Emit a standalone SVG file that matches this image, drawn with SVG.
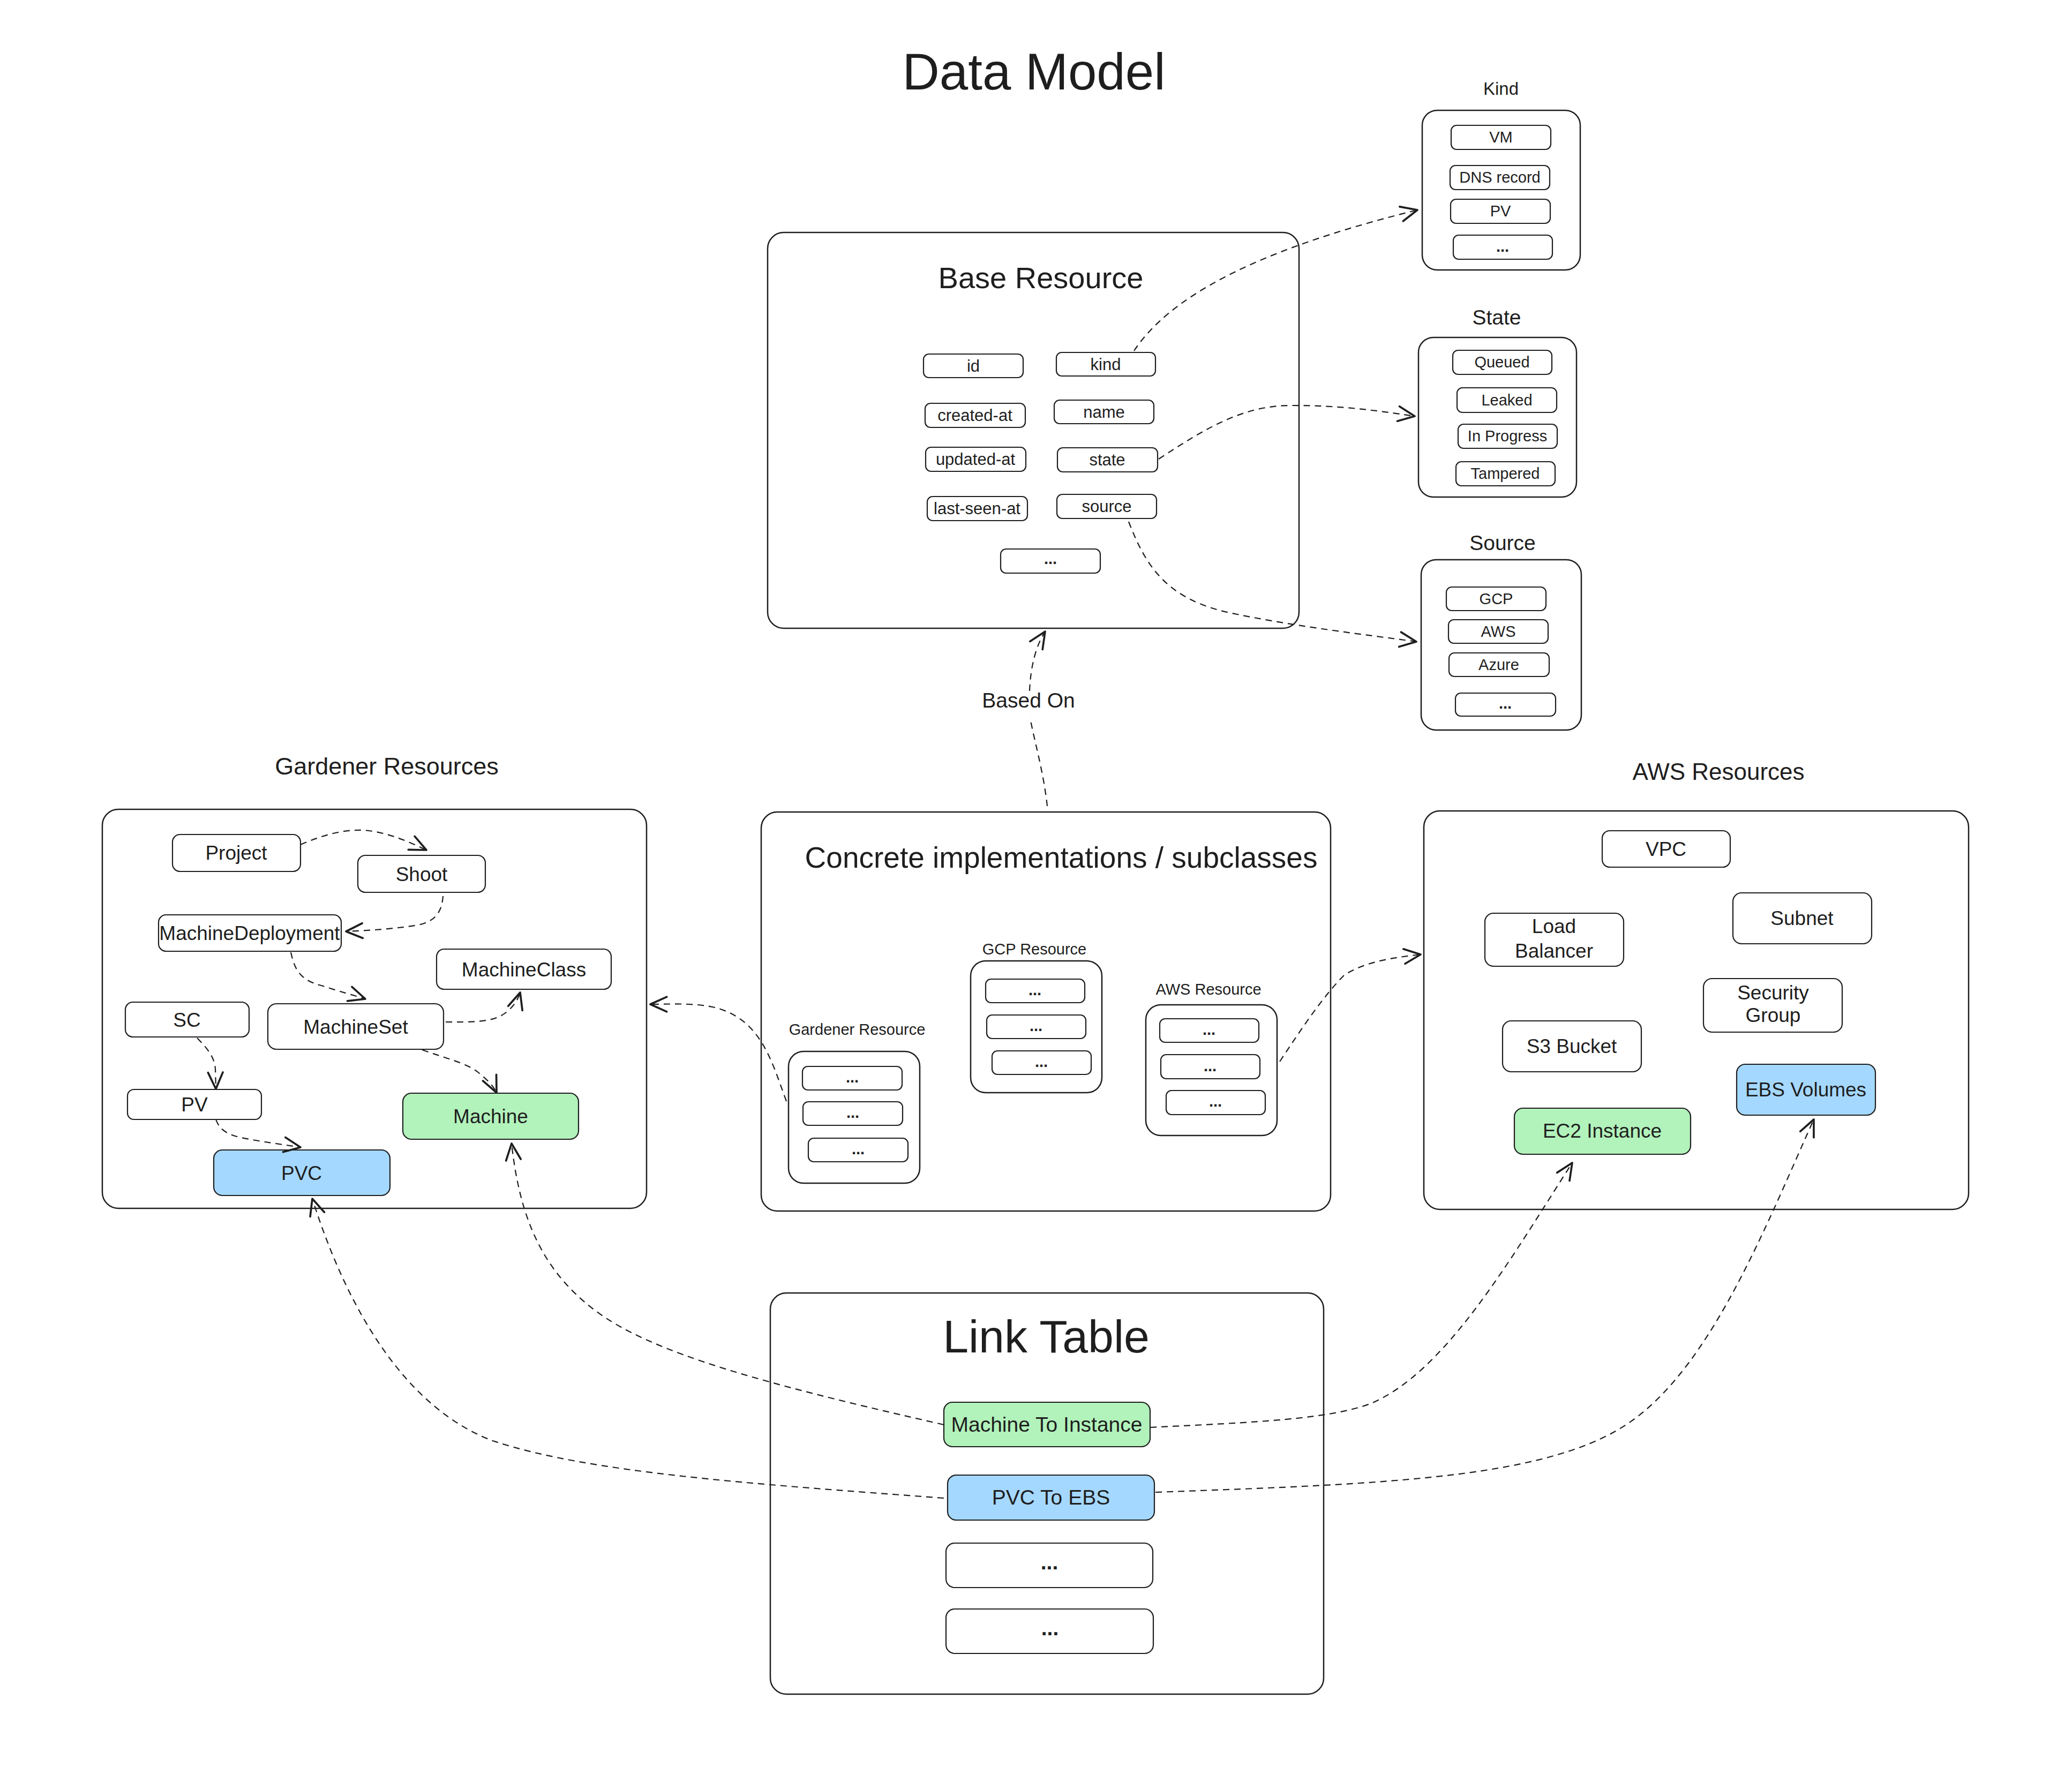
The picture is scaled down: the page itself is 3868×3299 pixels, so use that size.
<svg xmlns="http://www.w3.org/2000/svg" width="3868" height="3299" viewBox="0 0 3868 3299">
<defs>
<style>
.box{fill:#ffffff;stroke:#1e1e1e;stroke-width:2.5}
.item{fill:#ffffff;stroke:#1e1e1e;stroke-width:2.2}
.green{fill:#b2f2bb;stroke:#1e1e1e;stroke-width:2.2}
.blue{fill:#a5d8ff;stroke:#1e1e1e;stroke-width:2.2}
text{font-family:"Liberation Sans",Arial,sans-serif;fill:#1e1e1e;text-anchor:middle}
.t28{font-size:29px}
.t30{font-size:31px}
.t36{font-size:37px}
.t38{font-size:39px}
.dots{font-weight:bold}
.conn{fill:none;stroke:#1e1e1e;stroke-width:2.2;stroke-dasharray:12 9}
</style>
<marker id="arr" markerUnits="userSpaceOnUse" markerWidth="40" markerHeight="40" viewBox="-22 -12 26 24" refX="0" refY="0" orient="auto">
<path d="M-20,-9 L0,0 L-20,9" fill="none" stroke="#1e1e1e" stroke-width="2.4" stroke-linecap="round" stroke-linejoin="round"/>
</marker>
</defs>
<rect width="3868" height="3299" fill="#ffffff"/>

<g id="title"><text x="1930" y="167" style="font-size:96px">Data Model</text></g>

<g id="base-resource">
<rect class="box" x="1433" y="434" width="992" height="739" rx="30"/>
<text x="1943" y="538" style="font-size:56px">Base Resource</text>
<rect class="item" x="1724" y="661" width="186" height="44" rx="10"/><text class="t30" x="1817" y="694">id</text>
<rect class="item" x="1972" y="658" width="185" height="44" rx="10"/><text class="t30" x="2064" y="691">kind</text>
<rect class="item" x="1727" y="753" width="187" height="45" rx="10"/><text class="t30" x="1820" y="786">created-at</text>
<rect class="item" x="1968" y="747" width="186" height="44" rx="10"/><text class="t30" x="2061" y="780">name</text>
<rect class="item" x="1728" y="835" width="187" height="45" rx="10"/><text class="t30" x="1821" y="868">updated-at</text>
<rect class="item" x="1974" y="836" width="187" height="45" rx="10"/><text class="t30" x="2067" y="869">state</text>
<rect class="item" x="1731" y="927" width="187" height="45" rx="10"/><text class="t30" x="1824" y="960">last-seen-at</text>
<rect class="item" x="1973" y="923" width="186" height="45" rx="10"/><text class="t30" x="2066" y="956">source</text>
<rect class="item" x="1868" y="1025" width="186" height="45" rx="10"/><text class="t28 dots" x="1961" y="1053">...</text>
</g>

<g id="kind">
<text x="2802" y="177" style="font-size:33px">Kind</text>
<rect class="box" x="2655" y="206" width="295" height="298" rx="28"/>
<rect class="item" x="2709" y="234" width="186" height="45" rx="10"/><text class="t28" x="2802" y="266">VM</text>
<rect class="item" x="2707" y="309" width="186" height="45" rx="10"/><text class="t28" x="2800" y="341">DNS record</text>
<rect class="item" x="2708" y="372" width="186" height="45" rx="10"/><text class="t28" x="2801" y="404">PV</text>
<rect class="item" x="2713" y="439" width="185" height="45" rx="10"/><text class="t28 dots" x="2805" y="470">...</text>
</g>

<g id="state">
<text x="2794" y="606" style="font-size:39px">State</text>
<rect class="box" x="2648" y="630" width="295" height="298" rx="28"/>
<rect class="item" x="2712" y="654" width="185" height="45" rx="10"/><text class="t28" x="2804" y="686">Queued</text>
<rect class="item" x="2720" y="724" width="186" height="46" rx="10"/><text class="t28" x="2813" y="757">Leaked</text>
<rect class="item" x="2722" y="792" width="185" height="45" rx="10"/><text class="t28" x="2814" y="824">In Progress</text>
<rect class="item" x="2718" y="862" width="185" height="45" rx="10"/><text class="t28" x="2810" y="894">Tampered</text>
</g>

<g id="source">
<text x="2805" y="1027" style="font-size:39px">Source</text>
<rect class="box" x="2653" y="1045" width="299" height="318" rx="28"/>
<rect class="item" x="2700" y="1096" width="186" height="44" rx="10"/><text class="t28" x="2793" y="1128">GCP</text>
<rect class="item" x="2704" y="1157" width="186" height="44" rx="10"/><text class="t28" x="2797" y="1189">AWS</text>
<rect class="item" x="2705" y="1219" width="187" height="44" rx="10"/><text class="t28" x="2798" y="1251">Azure</text>
<rect class="item" x="2717" y="1294" width="187" height="43" rx="10"/><text class="t28 dots" x="2810" y="1323">...</text>
</g>

<g id="gardener-resources">
<text x="722" y="1446" style="font-size:45px">Gardener Resources</text>
<rect class="box" x="191" y="1511" width="1016" height="745" rx="30"/>
<rect class="item" x="322" y="1558" width="239" height="69" rx="14"/><text class="t36" x="441" y="1605">Project</text>
<rect class="item" x="668" y="1597" width="238" height="69" rx="14"/><text class="t36" x="787" y="1645">Shoot</text>
<rect class="item" x="296" y="1708" width="341" height="68" rx="14"/><text class="t36" x="466" y="1755">MachineDeployment</text>
<rect class="item" x="815" y="1772" width="326" height="75" rx="14"/><text class="t36" x="978" y="1823">MachineClass</text>
<rect class="item" x="234" y="1871" width="231" height="65" rx="14"/><text class="t36" x="349" y="1917">SC</text>
<rect class="item" x="500" y="1874" width="328" height="85" rx="16"/><text class="t36" x="664" y="1930">MachineSet</text>
<rect class="item" x="238" y="2034" width="250" height="56" rx="12"/><text class="t36" x="363" y="2075">PV</text>
<rect class="green" x="752" y="2041" width="328" height="86" rx="16"/><text class="t36" x="916" y="2097">Machine</text>
<rect class="blue" x="399" y="2147" width="329" height="85" rx="16"/><text class="t36" x="563" y="2203">PVC</text>
</g>

<g id="concrete-implementations">
<rect class="box" x="1421" y="1516" width="1063" height="745" rx="30"/>
<text x="1981" y="1620" style="font-size:55px">Concrete implementations / subclasses</text>
<g id="gardener-resource">
<text class="t28" x="1600" y="1932">Gardener Resource</text>
<rect class="box" x="1472" y="1963" width="245" height="246" rx="28"/>
<rect class="item" x="1498" y="1991" width="186" height="44" rx="10"/><text class="t28 dots" x="1591" y="2021">...</text>
<rect class="item" x="1499" y="2057" width="186" height="44" rx="10"/><text class="t28 dots" x="1592" y="2087">...</text>
<rect class="item" x="1509" y="2125" width="186" height="44" rx="10"/><text class="t28 dots" x="1602" y="2155">...</text>
</g>
<g id="gcp-resource">
<text class="t28" x="1931" y="1782">GCP Resource</text>
<rect class="box" x="1812" y="1794" width="245" height="246" rx="28"/>
<rect class="item" x="1840" y="1828" width="185" height="44" rx="10"/><text class="t28 dots" x="1932" y="1858">...</text>
<rect class="item" x="1842" y="1895" width="185" height="44" rx="10"/><text class="t28 dots" x="1934" y="1925">...</text>
<rect class="item" x="1852" y="1962" width="185" height="44" rx="10"/><text class="t28 dots" x="1944" y="1992">...</text>
</g>
<g id="aws-resource">
<text class="t28" x="2256" y="1857">AWS Resource</text>
<rect class="box" x="2139" y="1876" width="245" height="244" rx="28"/>
<rect class="item" x="2165" y="1902" width="185" height="44" rx="10"/><text class="t28 dots" x="2257" y="1932">...</text>
<rect class="item" x="2167" y="1969" width="185" height="45" rx="10"/><text class="t28 dots" x="2259" y="2000">...</text>
<rect class="item" x="2177" y="2036" width="185" height="45" rx="10"/><text class="t28 dots" x="2269" y="2066">...</text>
</g>
</g>

<g id="aws-resources">
<text x="3208" y="1456" style="font-size:44px">AWS Resources</text>
<rect class="box" x="2658" y="1514" width="1017" height="744" rx="30"/>
<rect class="item" x="2991" y="1551" width="239" height="68" rx="14"/><text class="t36" x="3110" y="1598">VPC</text>
<rect class="item" x="3235" y="1667" width="259" height="95" rx="16"/><text class="t36" x="3364" y="1727">Subnet</text>
<rect class="item" x="2772" y="1705" width="259" height="99" rx="16"/><text class="t36" x="2901" y="1742">Load</text><text class="t36" x="2901" y="1788">Balancer</text>
<rect class="item" x="3180" y="1827" width="259" height="100" rx="16"/><text class="t36" x="3310" y="1866">Security</text><text class="t36" x="3310" y="1908">Group</text>
<rect class="item" x="2805" y="1906" width="259" height="95" rx="16"/><text class="t36" x="2934" y="1966">S3 Bucket</text>
<rect class="blue" x="3242" y="1987" width="259" height="95" rx="16"/><text class="t36" x="3371" y="2047">EBS Volumes</text>
<rect class="green" x="2827" y="2069" width="329" height="86" rx="16"/><text class="t36" x="2991" y="2124">EC2 Instance</text>
</g>

<g id="link-table">
<rect class="box" x="1438" y="2414" width="1033" height="749" rx="30"/>
<text x="1953" y="2525" style="font-size:86px">Link Table</text>
<rect class="green" x="1762" y="2618" width="385" height="83" rx="16"/><text class="t38" x="1954" y="2673">Machine To Instance</text>
<rect class="blue" x="1769" y="2754" width="386" height="84" rx="16"/><text class="t38" x="1962" y="2809">PVC To EBS</text>
<rect class="item" x="1766" y="2881" width="386" height="83" rx="16"/><text class="t38 dots" x="1959" y="2930">...</text>
<rect class="item" x="1766" y="3004" width="387" height="83" rx="16"/><text class="t38 dots" x="1960" y="3053">...</text>
</g>

<g id="connectors">
<path class="conn" marker-end="url(#arr)" d="M2117,655 C2180,560 2330,470 2646,392"/>
<path class="conn" marker-end="url(#arr)" d="M2163,857 C2250,800 2320,757 2410,757 C2500,757 2560,765 2641,777"/>
<path class="conn" marker-end="url(#arr)" d="M2107,974 C2140,1060 2180,1120 2300,1145 C2420,1170 2550,1185 2644,1198"/>
<path class="conn" d="M1955,1505 C1948,1440 1930,1380 1923,1340"/>
<path class="conn" marker-end="url(#arr)" d="M1922,1290 Q1925,1220 1951,1179"/>
<text x="1920" y="1321" class="t38">Based On</text>
<path class="conn" marker-end="url(#arr)" d="M1468,2056 C1440,1980 1420,1900 1330,1880 C1290,1872 1250,1875 1214,1875"/>
<path class="conn" marker-end="url(#arr)" d="M2389,1982 C2430,1920 2470,1860 2510,1820 C2550,1795 2600,1788 2652,1782"/>
<path class="conn" marker-end="url(#arr)" d="M561,1577 C600,1560 640,1548 680,1550 C720,1553 760,1570 796,1587"/>
<path class="conn" marker-end="url(#arr)" d="M827,1673 C825,1700 815,1720 780,1727 C740,1734 690,1737 646,1739"/>
<path class="conn" marker-end="url(#arr)" d="M543,1778 C550,1810 560,1830 600,1840 C630,1850 660,1858 682,1865"/>
<path class="conn" marker-end="url(#arr)" d="M832,1908 C880,1908 920,1910 945,1890 C960,1878 967,1866 971,1853"/>
<path class="conn" marker-end="url(#arr)" d="M788,1960 C830,1975 870,1985 890,2000 C905,2012 920,2025 927,2040"/>
<path class="conn" marker-end="url(#arr)" d="M368,1938 C390,1960 400,1975 402,1995 L403,2033"/>
<path class="conn" marker-end="url(#arr)" d="M403,2090 C410,2110 425,2118 450,2124 C490,2132 530,2137 561,2142"/>
<path class="conn" marker-end="url(#arr)" d="M1762,2660 C1500,2600 1250,2540 1130,2460 C1010,2380 970,2270 955,2135"/>
<path class="conn" marker-end="url(#arr)" d="M2147,2665 C2350,2655 2480,2650 2560,2620 C2700,2560 2820,2350 2935,2171"/>
<path class="conn" marker-end="url(#arr)" d="M1762,2797 C1400,2770 1100,2750 920,2690 C760,2630 650,2450 583,2238"/>
<path class="conn" marker-end="url(#arr)" d="M2157,2786 C2600,2770 2900,2760 3050,2650 C3200,2540 3300,2280 3386,2090"/>
</g>
</svg>
